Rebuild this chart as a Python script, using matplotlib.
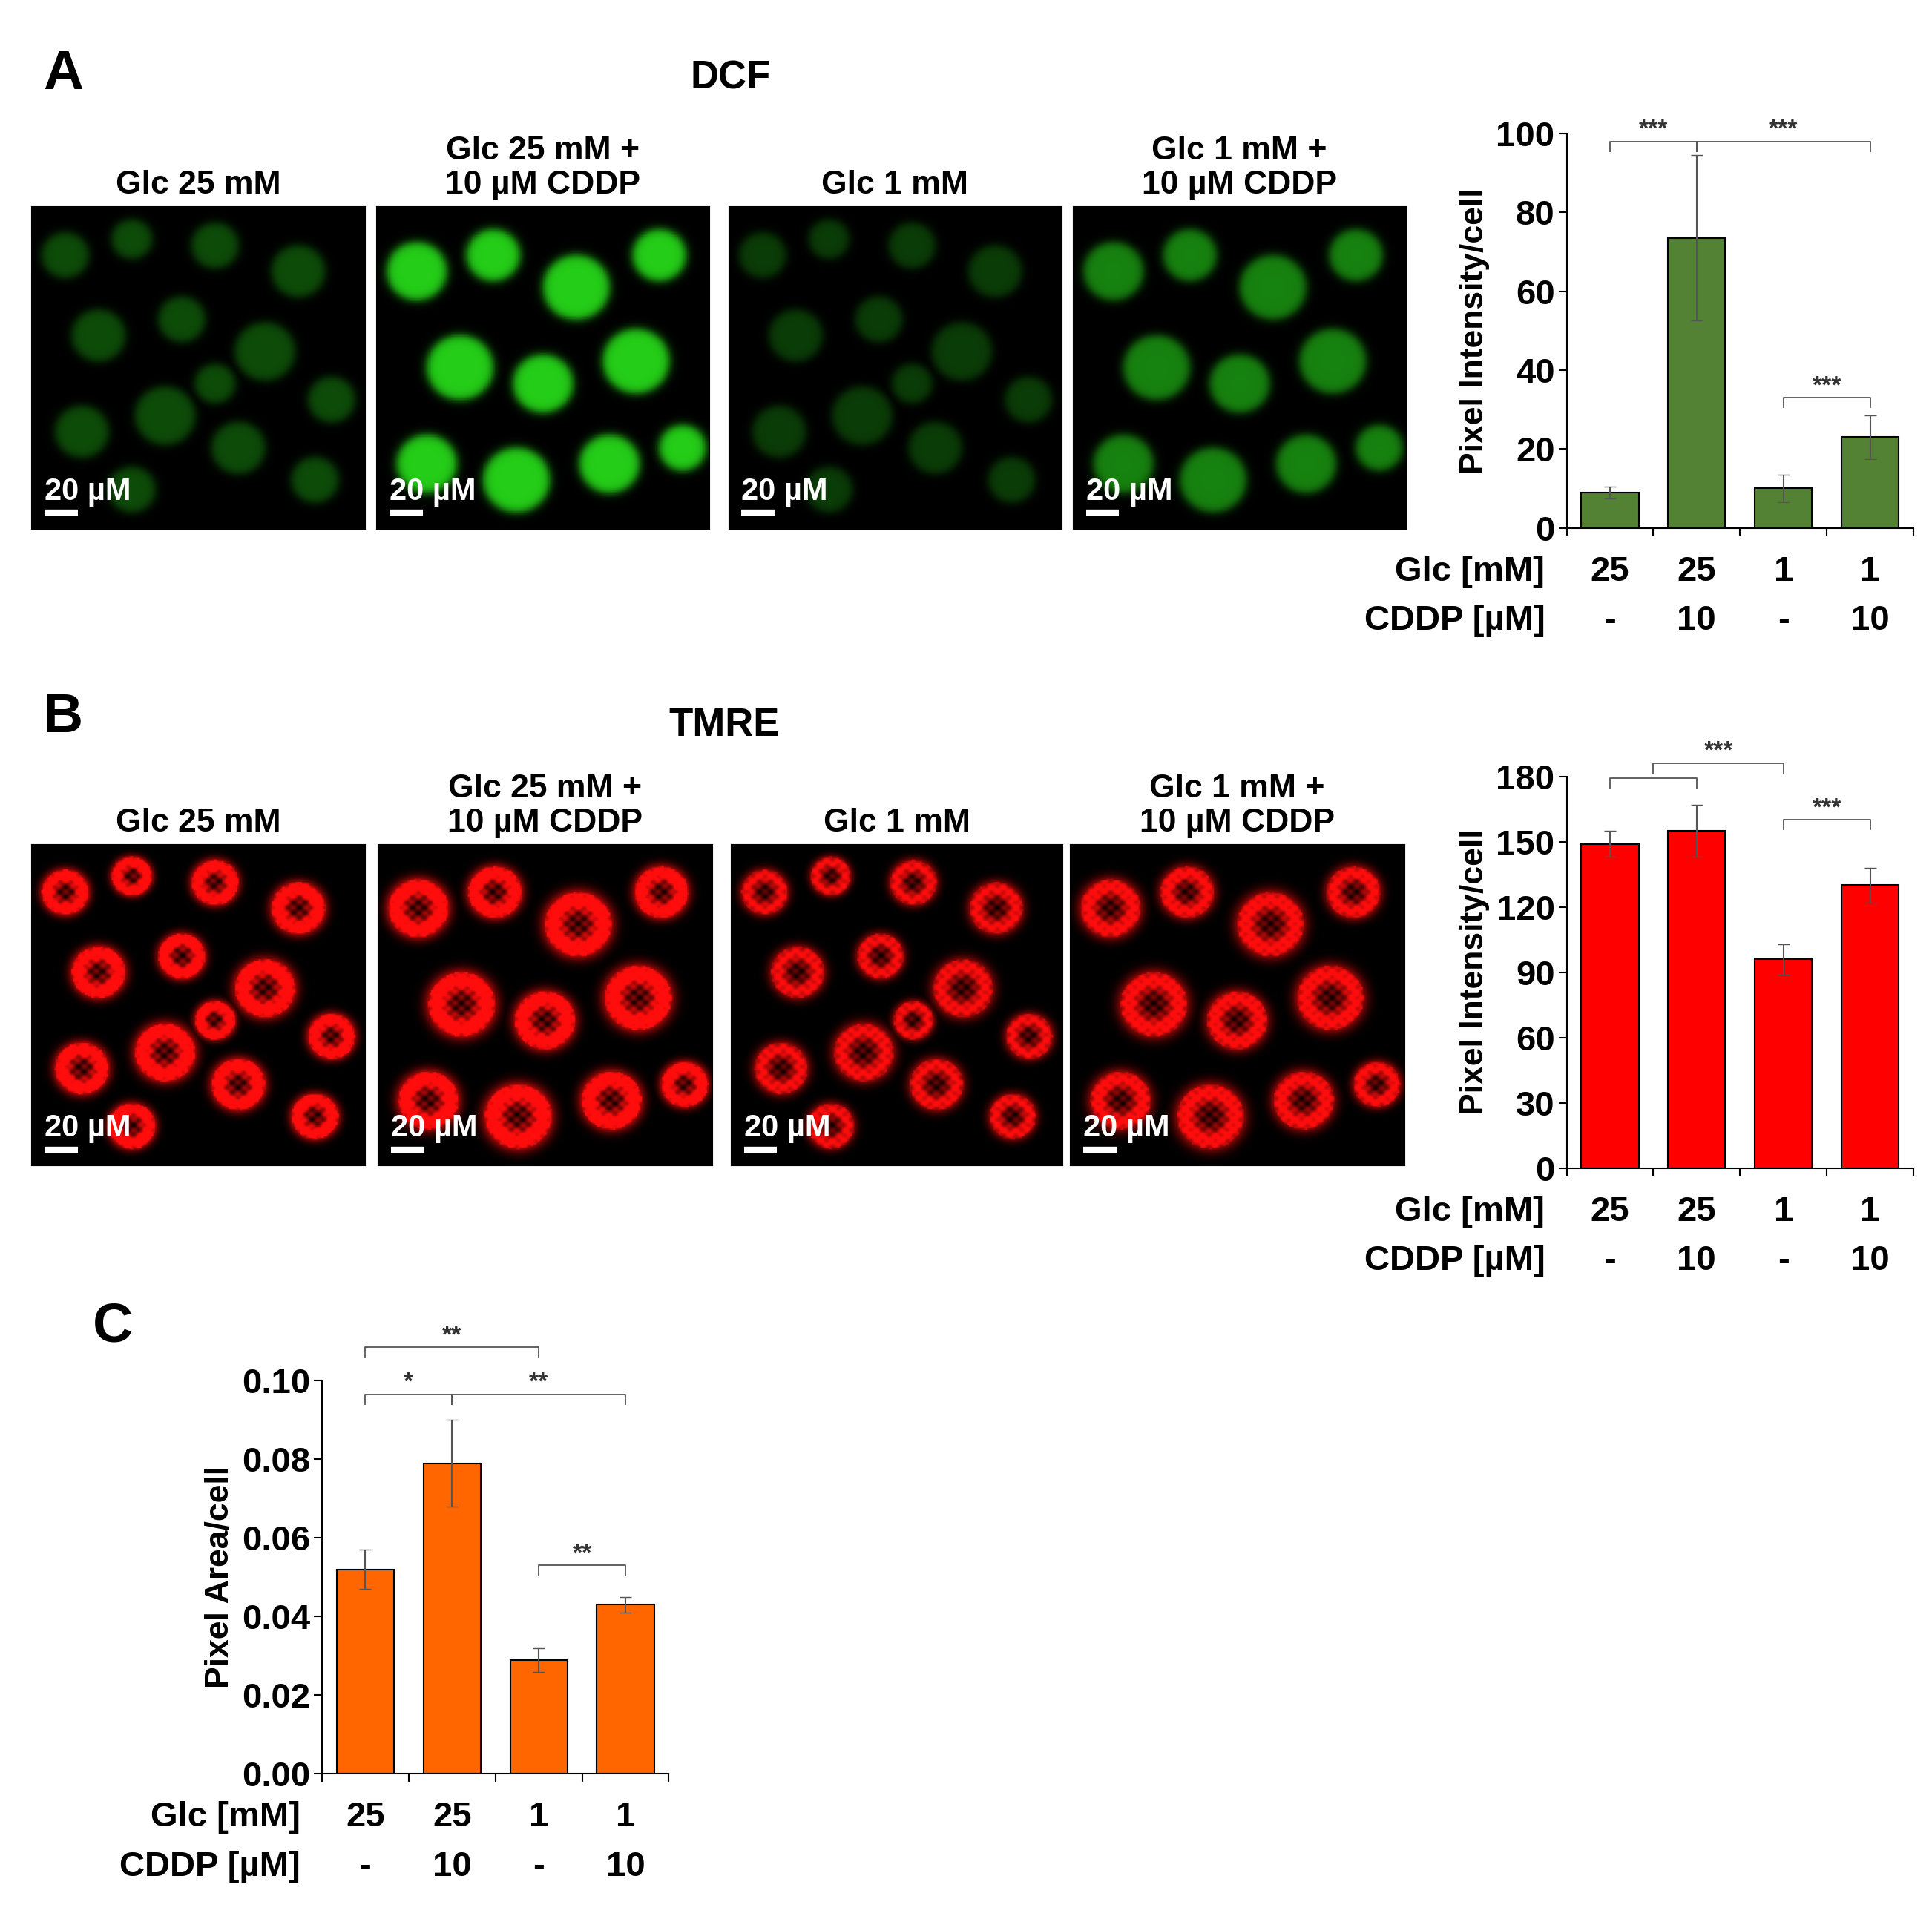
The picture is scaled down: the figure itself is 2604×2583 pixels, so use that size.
import numpy as np
import matplotlib
matplotlib.use("Agg")
import matplotlib.pyplot as plt
from matplotlib.transforms import blended_transform_factory

plt.rcParams['font.family'] = ['Liberation Sans', 'DejaVu Sans']
plt.rcParams['font.weight'] = 'bold'

glc = ["25", "25", "1", "1"]
cddp = ["-", "10", "-", "10"]
titles = ["Glc 25 mM", "Glc 25 mM +\n10 µM CDDP", "Glc 1 mM", "Glc 1 mM +\n10 µM CDDP"]

dcf_vals = [9, 73.5, 10, 23]
dcf_err = [1.5, 21, 3.5, 5.5]
tmre_vals = [149, 155, 96, 130]
tmre_err = [6, 12, 7, 8]
area_vals = [0.052, 0.079, 0.029, 0.043]
area_err = [0.005, 0.011, 0.003, 0.002]

# cell layouts (x, y, radius) in image units 0..100
cells_a = [(10, 15, 7), (30, 10, 6), (55, 12, 7), (80, 20, 8), (20, 40, 8), (45, 35, 7),
           (70, 45, 9), (90, 60, 7), (15, 70, 8), (40, 65, 9), (62, 75, 8), (85, 85, 7),
           (30, 88, 7), (55, 55, 6)]
cells_b = [(12, 20, 9), (35, 15, 8), (60, 25, 10), (85, 15, 8), (25, 50, 10), (50, 55, 9),
           (78, 48, 10), (15, 80, 9), (42, 85, 10), (70, 80, 9), (92, 75, 7)]
dcf_int = [0.35, 0.95, 0.28, 0.6]
tmre_int = [1.0, 1.0, 0.8, 0.85]

def render(cells, intensity, ring):
    yy, xx = np.mgrid[0:100:200j, 0:100:200j]
    img = np.zeros_like(xx)
    for (cx, cy, r) in cells:
        d = np.sqrt((xx - cx) ** 2 + (yy - cy) ** 2)
        if ring:
            v = np.exp(-((d - 0.75 * r) / (0.35 * r)) ** 2) + 0.5 * (d < r) * (0.5 + 0.5 * np.sin(xx * 1.7) * np.cos(yy * 1.9))
        else:
            v = 1 / (1 + np.exp((d - r) / 0.8))
        img = np.maximum(img, v)
    return np.clip(img * intensity, 0, 1)

fig = plt.figure(figsize=(26.04, 25.83), dpi=100)
W, H = 1560, 1550
FS = 34

def fax(x0, y0, x1, y1):
    return fig.add_axes([x0 / W, 1 - y1 / H, (x1 - x0) / W, (y1 - y0) / H])

def panel_images(xs, y0, y1, color, ints, ring, top_title_y):
    for i, (x0, x1) in enumerate(xs):
        ax = fax(x0, y0, x1, y1)
        img = render(cells_a if i % 2 == 0 else cells_b, ints[i], ring)
        rgb = np.zeros(img.shape + (3,))
        for c in range(3):
            rgb[..., c] = img * color[c]
        ax.imshow(rgb, extent=[0, 100, 100, 0], aspect='auto')
        ax.set_xticks([]); ax.set_yticks([])
        ax.plot([4, 14], [95, 95], color='white', lw=6, solid_capstyle='butt')
        ax.text(4, 91, "20 µM", color='white', fontsize=30, fontweight='bold')
        fig.text((x0 + x1) / 2 / W, 1 - top_title_y / H, titles[i], ha='center', va='bottom',
                 fontsize=32, fontweight='bold', linespacing=1.15)

def bar_chart(ax, vals, errs, color, ymax, step, ylabel, fmt, brackets):
    x = np.arange(4)
    ax.bar(x, vals, width=0.66, color=color, edgecolor='black', linewidth=1.5,
           yerr=errs, capsize=6, error_kw=dict(ecolor='#555555', lw=1.5))
    ax.set_xlim(-0.5, 3.5)
    ax.set_ylim(0, ymax)
    ax.set_yticks(np.arange(0, ymax + step / 2, step))
    ax.set_yticklabels([fmt.format(v) for v in np.arange(0, ymax + step / 2, step)])
    ax.set_xticks([-0.5, 0.5, 1.5, 2.5, 3.5])
    ax.set_xticklabels([])
    ax.tick_params(axis='both', labelsize=FS, width=1.5, length=8)
    for s in ['top', 'right']:
        ax.spines[s].set_visible(False)
    ax.spines['left'].set_linewidth(1.5)
    ax.spines['bottom'].set_linewidth(1.5)
    ax.set_ylabel(ylabel, fontsize=32, fontweight='bold', labelpad=6)
    for lab in ax.get_yticklabels():
        lab.set_fontweight('bold')
    tr = blended_transform_factory(ax.transData, ax.transAxes)
    for i in range(4):
        ax.text(i, -0.07, glc[i], transform=tr, ha='center', va='top', fontsize=FS, fontweight='bold')
        ax.text(i, -0.195, cddp[i], transform=tr, ha='center', va='top', fontsize=FS, fontweight='bold')
    ax.text(-0.75, -0.07, "Glc [mM]", transform=tr, ha='right', va='top', fontsize=FS, fontweight='bold')
    ax.text(-0.75, -0.195, "CDDP [µM]", transform=tr, ha='right', va='top', fontsize=FS, fontweight='bold')
    for (a, b, y, t) in brackets:
        h = ymax * 0.025
        ax.plot([a, a, b, b], [y - h, y, y, y - h], color='#555555', lw=1.3, clip_on=False)
        if t:
            ax.text((a + b) / 2, y, t, ha='center', va='bottom', fontsize=24, color='#333333', clip_on=False)

# Panel A
fig.text(35 / W, 1 - 72 / H, "A", fontsize=54, fontweight='bold')
fig.text(590 / W, 1 - 72 / H, "DCF", fontsize=38, fontweight='bold', ha='center')
panel_images([(25, 295), (304, 573), (588, 857), (866, 1135)], 167, 428, (0.15, 0.85, 0.1), dcf_int, False, 162)
axA = fax(1265, 108, 1545, 427)
bar_chart(axA, dcf_vals, dcf_err, '#548235', 100, 20, "Pixel Intensity/cell", "{:.0f}",
          [(0, 1, 98, "***"), (1, 3, 98, "***"), (2, 3, 33, "***")])

# Panel B
fig.text(35 / W, 1 - 592 / H, "B", fontsize=54, fontweight='bold')
fig.text(585 / W, 1 - 595 / H, "TMRE", fontsize=38, fontweight='bold', ha='center')
panel_images([(25, 295), (305, 575), (590, 858), (864, 1134)], 683, 943, (1.0, 0.05, 0.05), tmre_int, True, 678)
axB = fax(1265, 628, 1545, 945)
bar_chart(axB, tmre_vals, tmre_err, '#FF0000', 180, 30, "Pixel Intensity/cell", "{:.0f}",
          [(0, 1, 179, ""), (0.5, 2, 186, "***"), (2, 3, 160, "***")])

# Panel C
fig.text(75 / W, 1 - 1085 / H, "C", fontsize=54, fontweight='bold')
axC = fax(260, 1117, 540, 1435)
bar_chart(axC, area_vals, area_err, '#FF6600', 0.10, 0.02, "Pixel Area/cell", "{:.2f}",
          [(0, 2, 0.1085, "**"), (0, 1, 0.0965, "*"), (1, 3, 0.0965, "**"), (2, 3, 0.053, "**")])

fig.savefig("out.png", dpi=100)
